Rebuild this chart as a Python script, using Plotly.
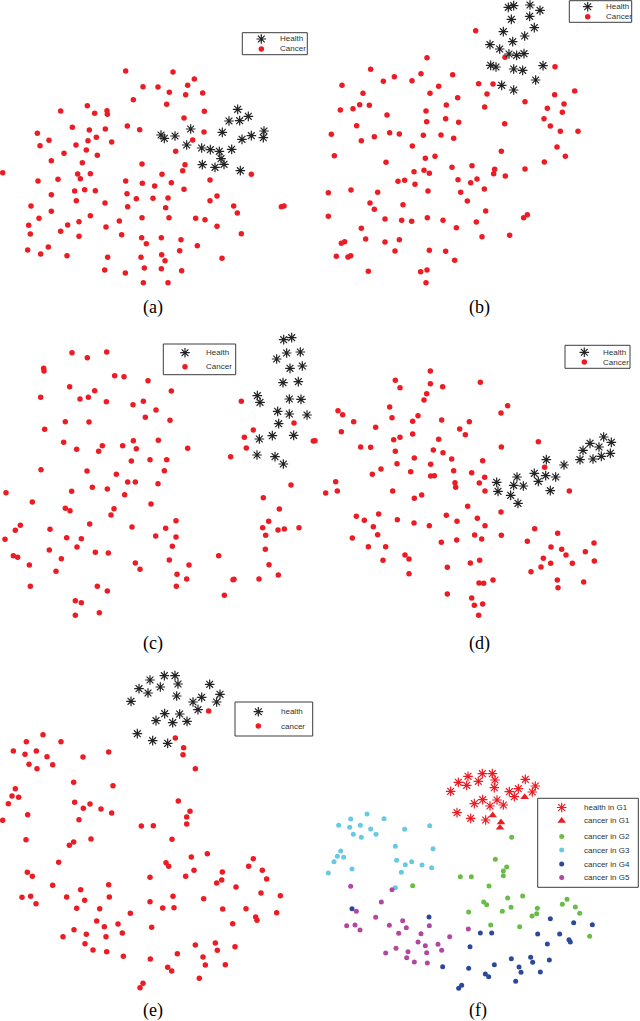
import plotly.graph_objects as go

W, H = 640, 1021

# ---------------- DATA (t-SNE embedding coordinates per panel) ----------------
A_HEALTH = [(713,238),(745,259),(687,273),(719,272),(572,297),(667,307),(792,303),(483,315),(493,325),
            (525,318),(754,317),(726,328),(790,323),(560,345),(605,354),(631,359),(658,364),(695,358),
            (663,386),(672,403),(607,404),(645,412),(721,422)]
A_CANCER = [(377,123),(519,126),(583,147),(563,166),(429,170),(474,171),(508,187),(557,194),(608,189),(400,209),
            (500,223),(182,243),(262,227),(321,242),(322,253),(284,250),(613,244),(552,264),(217,292),(268,300),
            (316,297),(382,288),(419,299),(612,306),(112,310),(147,331),(120,347),(264,332),(289,322),(228,345),
            (335,336),(578,330),(259,360),(192,370),(292,376),(527,364),(154,392),(247,398),(426,402),(555,404),
            (8,428),(233,432),(241,446),(271,431),(486,433),(548,422),(114,453),(174,448),(377,453),(427,460),
            (464,468),(514,458),(630,450),(754,433),(154,494),(224,483),(254,479),(286,482),(381,491),(552,478),
            (229,512),(409,506),(459,505),(504,504),(315,519),(383,530),(497,533),(630,512),(651,498),(701,528),
            (712,549),(844,530),(852,528),(93,528),(154,544),(117,565),(271,557),(237,575),(203,585),(182,604),
            (86,586),(91,612),(358,573),(318,591),(426,563),(507,563),(587,565),(615,569),(651,589),(724,611),
            (237,619),(365,614),(425,623),(439,641),(484,623),(543,629),(592,647),(539,662),(145,651),(83,660),
            (122,672),(201,677),(323,682),(423,682),(485,674),(495,692),(666,685),(314,720),(376,729),(433,714),
            (484,716),(545,722),(430,758),(504,758)]

B_HEALTH = [(580,22),(596,17),(645,15),(675,31),(589,58),(644,49),(658,83),(565,95),(629,108),(593,125),
            (525,134),(554,147),(582,162),(605,166),(627,161),(527,196),(543,201),(596,207),(623,211),(684,197),
            (662,240),(560,256),(596,270)]
B_CANCER = [(482,92),(336,173),(167,208),(570,172),(720,200),(205,244),(238,230),(291,242),(318,221),(413,224),
            (81,256),(144,280),(371,259),(491,251),(534,252),(516,282),(345,280),(428,293),(779,273),(719,284),
            (630,305),(76,330),(114,326),(134,314),(163,316),(216,345),(333,333),(394,315),(509,321),(697,325),
            (747,312),(742,337),(125,377),(335,365),(392,356),(431,367),(569,371),(687,356),(706,378),(49,403),
            (139,422),(178,410),(224,398),(253,402),(325,406),(378,405),(416,415),(736,394),(789,394),(292,438),
            (559,454),(726,441),(751,469),(58,467),(213,487),(331,475),(360,469),(688,486),(297,515),(327,511),
            (343,520),(411,502),(471,497),(539,508),(536,521),(571,528),(630,507),(249,544),(269,541),(300,553),
            (429,539),(467,548),(486,537),(40,578),(108,570),(188,577),(339,573),(437,577),(508,567),(165,609),
            (178,628),(264,614),(457,603),(40,649),(210,657),(260,661),(290,664),(337,653),(384,661),(484,666),
            (512,633),(626,653),(637,644),(139,685),(424,683),(152,717),(210,726),(253,719),(501,710),(584,706),
            (79,730),(89,725),(240,753),(343,751),(392,754),(64,769),(99,771),(107,767),(419,781),(160,814),
            (317,815),(336,810),(333,848)]

C_HEALTH = [(851,29),(875,23),(830,87),(860,69),(901,66),(870,115),(907,108),(849,158),(895,155),(772,197),
            (780,217),(868,207),(903,208),(833,244),(868,252),(921,255),(836,281),(817,317),(881,316),(778,327),
            (771,375),(825,380),(850,402)]
C_CANCER = [(216,68),(262,83),(320,66),(131,115),(132,123),(344,137),(372,140),(444,152),(209,170),(284,182),
            (240,207),(265,202),(122,202),(319,215),(399,224),(430,214),(514,183),(468,240),(436,262),(510,271),
            (196,275),(267,276),(134,298),(724,214),(882,279),(760,300),(733,322),(940,333),(191,337),(230,358),
            (307,347),(296,364),(368,347),(400,332),(409,356),(475,331),(563,355),(739,354),(692,380),(394,393),
            (450,389),(500,389),(123,419),(261,423),(349,433),(493,422),(18,488),(215,484),(277,472),(322,477),
            (383,456),(406,456),(374,494),(474,461),(873,465),(97,516),(196,535),(210,542),(342,536),(333,555),
            (453,522),(790,503),(838,537),(61,586),(46,601),(15,628),(150,598),(269,582),(396,591),(528,572),
            (497,595),(467,618),(528,621),(200,623),(244,626),(231,651),(148,660),(184,686),(286,667),(325,669),
            (517,649),(508,690),(40,677),(53,682),(88,705),(168,724),(406,699),(420,718),(567,705),(531,733),
            (560,747),(91,769),(292,769),(322,783),(529,769),(226,812),(244,818),(226,856),(298,848),(656,677),
            (702,748),(699,749),(673,796),(777,747),(835,735),(807,704),(796,658),(797,616),(788,593),(834,600),
            (853,597),(897,593),(806,574)]

D_HEALTH = [(866,291),(889,307),(825,310),(852,321),(804,331),(886,340),(859,349),(834,357),(795,359),(694,359),
            (747,375),(658,400),(692,407),(722,411),(606,411),(670,424),(545,427),(596,436),(625,438),(549,454),
            (706,452),(587,466),(609,490)]
D_CANCER = [(346,93),(241,121),(255,143),(346,131),(383,140),(496,127),(335,161),(327,180),(578,197),(558,219),
            (224,201),(231,233),(69,212),(83,224),(116,245),(182,262),(293,244),(309,227),(380,240),(463,245),
            (434,267),(451,284),(0,302),(79,275),(236,299),(255,292),(293,282),(371,298),(137,321),(167,322),
            (241,334),(355,330),(384,338),(559,321),(670,305),(298,354),(246,371),(347,373),(410,357),(503,362),
            (689,382),(172,403),(198,387),(287,395),(347,408),(358,407),(416,392),(470,398),(420,428),(422,442),
            (493,429),(509,412),(510,453),(62,425),(32,459),(67,453),(233,453),(298,475),(320,465),(763,453),
            (458,499),(558,516),(124,529),(148,541),(191,522),(247,539),(297,549),(343,557),(394,526),(426,544),
            (487,535),(510,557),(175,560),(188,584),(112,594),(160,620),(212,620),(379,607),(425,600),(479,585),
            (500,597),(559,586),(659,566),(637,604),(728,580),(708,621),(740,628),(753,645),(685,655),(678,681),
            (707,670),(772,670),(648,695),(811,635),(837,609),(838,663),(204,661),(270,645),(282,657),(282,701),
            (397,682),(466,669),(494,661),(727,720),(729,743),(806,726),(492,729),(506,730),(534,720),(397,762),
            (470,774),(478,796),(503,792),(491,826)]

E_HEALTH = [(450,60),(493,47),(525,47),(534,72),(417,86),(481,81),(444,99),(530,108),(629,73),(660,103),
            (605,112),(579,126),(650,126),(594,149),(393,124),(494,161),(539,162),(468,182),(518,188),(561,184),
            (412,221),(458,242),(503,250)]
E_CANCER = [(626,153),(526,234),(551,263),(549,284),(586,326),(129,224),(79,245),(183,245),(40,273),(75,283),
            (109,273),(141,290),(87,313),(111,326),(158,314),(249,291),(326,276),(221,367),(339,377),(46,386),
            (36,408),(56,412),(25,431),(83,464),(8,481),(224,427),(250,445),(270,432),(303,447),(335,459),
            (237,479),(535,423),(570,454),(560,471),(560,492),(424,498),(460,497),(516,538),(78,539),(208,556),
            (221,546),(273,537),(176,607),(574,591),(622,581),(498,608),(506,619),(582,631),(557,649),(450,652),
            (760,596),(746,619),(787,631),(800,657),(667,636),(665,660),(650,669),(708,681),(783,699),(841,707),
            (82,637),(97,649),(158,676),(242,689),(326,674),(328,711),(66,712),(92,709),(108,731),(200,711),
            (254,721),(230,745),(299,746),(391,760),(450,725),(488,744),(519,709),(522,743),(611,716),(668,747),
            (738,746),(767,771),(771,781),(830,758),(698,791),(290,783),(313,800),(354,792),(367,819),(222,809),
            (259,823),(318,830),(189,830),(255,851),(279,870),(320,875),(370,889),(455,802),(586,855),(646,849),
            (652,871),(705,860),(609,891),(616,915),(676,914),(532,881),(451,897),(503,922),(515,933),(598,955),
            (429,970),(420,983)]

F_HEALTH_G1 = [(459,49),(502,41),(532,41),(540,60),(430,67),(455,76),(490,64),(538,83),(407,94),(631,58),
               (661,78),(610,86),(583,95),(652,96),(598,110),(503,119),(546,120),(478,131),(525,138),(565,135),
               (426,158),(467,175),(512,180)]
F_CANCER_G1 = [(629,111),(533,166),(558,187),(555,203)]
F_CANCER_G2 = [(590,232),(541,298),(575,321),(565,333),(565,347),(436,350),(469,350),(522,378),(293,377),
               (506,426),(515,434),(578,414),(623,408),(562,454),(588,442),(461,456),(527,495),(614,500),
               (651,468),(665,461),(667,445),(742,433),(756,418),(781,441),(794,460),(824,529)]
F_CANCER_G3 = [(156,162),(207,176),(107,177),(71,196),(104,202),(136,196),(167,207),(115,223),(139,232),
               (183,223),(269,208),(344,197),(241,259),(354,266),(77,273),(67,289),(86,292),(57,305),(245,301),
               (271,314),(290,305),(321,315),(350,323),(111,327),(259,337),(40,339),(241,383)]
F_CANCER_G4 = [(111,446),(342,471),(706,476),(776,488),(832,494),(496,519),(530,519),(668,522),(734,522),
               (762,539),(766,546),(697,552),(465,560),(589,596),(647,592),(703,600),(653,607),(538,614),
               (612,621),(383,620),(461,625),(618,637),(676,636),(511,642),(521,650),(602,664),(440,676),(431,685)]
F_CANCER_G5 = [(107,379),(231,389),(199,426),(124,454),(182,472),(95,497),(120,495),(135,510),(223,496),
               (263,482),(274,503),(343,497),(251,520),(318,521),(404,530),(460,507),(309,546),(331,557),
               (369,553),(380,571),(243,565),(212,579),(279,575),(335,578),(275,593),(298,606),(337,609)]

CAPTIONS = ["(a)", "(b)", "(c)", "(d)", "(e)", "(f)"]
LABELS_UPPER = ["Health", "Cancer"]
LABELS_LOWER = ["health", "cancer"]
LABELS_F = ["health in G1", "cancer in G1", "cancer in G2", "cancer in G3", "cancer in G4", "cancer in G5"]

# ---------------- STYLE / LAYOUT ----------------
RED = "rgb(236,28,36)"
GREEN = "rgb(104,189,70)"
CYAN = "rgb(104,201,226)"
BLUE = "rgb(44,72,155)"
MAGENTA = "rgb(176,72,160)"
STAR_LINE = "rgb(35,35,35)"

# panel frames in page pixels: (left, top, width, height); data scale = 3 units / px
PANELS = {
    "a": (0, 30, 310, 290),
    "b": (315, 0, 325, 300),
    "c": (0, 330, 320, 300),
    "d": (315, 340, 325, 290),
    "e": (0, 660, 320, 330),
    "f": (315, 760, 325, 260),
}
SCALE = 3.0

CAPTION_POS = [(153, 308), (479, 308), (153, 643), (479, 643), (153, 1010), (478, 1010)]

# legend boxes in page pixels: box (x0,y0,x1,y1), symbol x, text x, row ys
LEGENDS = {
    "a": ((242.3, 32.7, 307.3, 54.7), 261.3, 278.3, [39.0, 49.0]),
    "b": ((569.3, 0.7, 631.7, 22.3), 587.7, 604.3, [6.7, 16.7]),
    "c": ((163.3, 344.0, 235.7, 374.7), 185.0, 204.0, [352.7, 366.7]),
    "d": ((565.0, 345.3, 630.0, 368.3), 584.3, 601.3, [352.3, 362.0]),
    "e": ((235.0, 702.0, 312.7, 736.0), 258.3, 279.0, [711.7, 726.0]),
    "f": ((537.7, 798.3, 638.3, 887.3), 561.7, 581.7, [807.5, 820.8, 836.4, 850.0, 864.0, 877.5]),
}

fig = go.Figure()
layout_axes = {}

def px_x(x):
    return x / W

def px_y(y):
    return 1 - y / H

def add_axes(idx, frame):
    l, t, w, h = frame
    xa = "xaxis" if idx == 1 else f"xaxis{idx}"
    ya = "yaxis" if idx == 1 else f"yaxis{idx}"
    layout_axes[xa] = dict(domain=[px_x(l), px_x(l + w)], range=[0, w * SCALE], visible=False,
                           fixedrange=True, anchor=f"y{idx if idx > 1 else ''}")
    layout_axes[ya] = dict(domain=[px_y(t + h), px_y(t)], range=[h * SCALE, 0], visible=False,
                           fixedrange=True, anchor=f"x{idx if idx > 1 else ''}")
    return (f"x{idx}" if idx > 1 else "x"), (f"y{idx}" if idx > 1 else "y")

def unzip(pts):
    return [p[0] for p in pts], [p[1] for p in pts]

def star(color, size=8):
    return dict(symbol="asterisk-open", size=size, color=color, line=dict(color=color, width=1.2))

def dot(color, size=5.5):
    return dict(symbol="circle", size=size, color=color, line=dict(width=0))

def add_pts(pts, xa, ya, marker):
    x, y = unzip(pts)
    fig.add_trace(go.Scatter(x=x, y=y, xaxis=xa, yaxis=ya, mode="markers", marker=marker,
                             cliponaxis=False, showlegend=False, hoverinfo="skip"))

panel_data = {
    "a": [(A_CANCER, dot(RED)), (A_HEALTH, star(STAR_LINE))],
    "b": [(B_CANCER, dot(RED)), (B_HEALTH, star(STAR_LINE))],
    "c": [(C_CANCER, dot(RED)), (C_HEALTH, star(STAR_LINE))],
    "d": [(D_CANCER, dot(RED)), (D_HEALTH, star(STAR_LINE))],
    "e": [(E_CANCER, dot(RED)), (E_HEALTH, star(STAR_LINE))],
    "f": [(F_CANCER_G2, dot(GREEN, 5)), (F_CANCER_G3, dot(CYAN, 5)), (F_CANCER_G4, dot(BLUE, 5)),
          (F_CANCER_G5, dot(MAGENTA, 5)), (F_HEALTH_G1, star(RED)),
          (F_CANCER_G1, dict(symbol="triangle-up", size=7.5, color=RED, line=dict(width=0)))],
}

for i, key in enumerate(["a", "b", "c", "d", "e", "f"], start=1):
    xa, ya = add_axes(i, PANELS[key])
    for pts, mk in panel_data[key]:
        add_pts(pts, xa, ya, mk)

# overlay axis in page pixels for legend symbols
layout_axes["xaxis7"] = dict(domain=[0, 1], range=[0, W], visible=False, fixedrange=True, anchor="y7")
layout_axes["yaxis7"] = dict(domain=[0, 1], range=[H, 0], visible=False, fixedrange=True, anchor="x7")

shapes = []
annotations = []

legend_markers = {
    "a": [star(STAR_LINE), dot(RED)],
    "b": [star(STAR_LINE), dot(RED)],
    "c": [star(STAR_LINE), dot(RED)],
    "d": [star(STAR_LINE), dot(RED)],
    "e": [star(STAR_LINE), dot(RED)],
    "f": [star(RED), dict(symbol="triangle-up", size=7.5, color=RED, line=dict(width=0)),
          dot(GREEN, 5), dot(CYAN, 5), dot(BLUE, 5), dot(MAGENTA, 5)],
}
legend_labels = {"a": LABELS_UPPER, "b": LABELS_UPPER, "c": LABELS_UPPER, "d": LABELS_UPPER,
                 "e": LABELS_LOWER, "f": LABELS_F}

for key, (box, sx, tx, rows) in LEGENDS.items():
    x0, y0, x1, y1 = box
    shapes.append(dict(type="rect", xref="paper", yref="paper", x0=px_x(x0), x1=px_x(x1),
                       y0=px_y(y1), y1=px_y(y0), line=dict(color="rgb(60,60,60)", width=1),
                       fillcolor="white", layer="below"))
    for ry, mk, lab in zip(rows, legend_markers[key], legend_labels[key]):
        fig.add_trace(go.Scatter(x=[sx], y=[ry], xaxis="x7", yaxis="y7", mode="markers", marker=mk,
                                 cliponaxis=False, showlegend=False, hoverinfo="skip"))
        annotations.append(dict(xref="paper", yref="paper", x=px_x(tx), y=px_y(ry), text=lab,
                                showarrow=False, xanchor="left", yanchor="middle",
                                font=dict(family="Liberation Sans, Arial", size=8, color="rgb(50,50,50)")))

for cap, (cx, cy) in zip(CAPTIONS, CAPTION_POS):
    annotations.append(dict(xref="paper", yref="paper", x=px_x(cx), y=px_y(cy), text=cap,
                            showarrow=False, xanchor="center", yanchor="middle",
                            font=dict(family="Liberation Serif, DejaVu Serif", size=18, color="black")))

fig.update_layout(width=W, height=H, margin=dict(l=0, r=0, t=0, b=0), paper_bgcolor="white",
                  plot_bgcolor="rgba(0,0,0,0)", showlegend=False, shapes=shapes, annotations=annotations,
                  hovermode=False, **layout_axes)

fig.write_html("out.html", config={"displayModeBar": False, "staticPlot": True},
               post_script="document.body.style.margin='0';document.body.style.overflow='hidden';")
